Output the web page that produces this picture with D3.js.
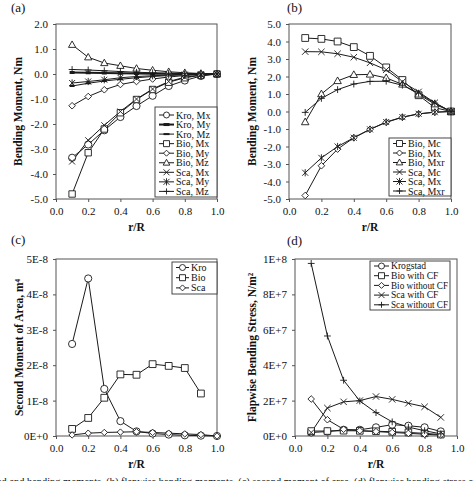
<!DOCTYPE html>
<html><head><meta charset="utf-8">
<script src="https://cdn.jsdelivr.net/npm/d3@7"></script>
<style>
body{margin:0;background:#fff}
svg{display:block}
svg text{font-family:"Liberation Serif","DejaVu Serif",serif !important;fill:#111}
</style>
</head><body>
<svg id="chart" width="474" height="481"></svg>
<script>
// ---------- data ----------
const rR  = [0.1,0.2,0.3,0.4,0.5,0.6,0.7,0.8,0.9,1.0];
const rR9 = [0.1,0.2,0.3,0.4,0.5,0.6,0.7,0.8,0.9];
const xTicks = [0,0.2,0.4,0.6,0.8,1.0];

// (a) bending moments
const aKroMx = [-3.35,-2.82,-2.25,-1.72,-1.28,-0.87,-0.48,-0.26,-0.08,0];
const aKroMy = [0.06,0.05,0.04,0.03,0.02,0.01,0.01,0,0,0];
const aKroMz = [-0.48,-0.37,-0.28,-0.21,-0.15,-0.1,-0.06,-0.03,-0.01,0];
const aBioMx = [-4.8,-3.15,-2.2,-1.55,-1.02,-0.62,-0.33,-0.15,-0.05,0];
const aBioMy = [-1.27,-0.9,-0.63,-0.42,-0.3,-0.2,-0.12,-0.06,-0.02,0];
const aBioMz = [1.17,0.67,0.44,0.33,0.22,0.15,0.09,0.05,0.02,0];
const aScaMx = [-3.5,-2.65,-2.05,-1.5,-1.0,-0.6,-0.3,-0.13,-0.04,0];
const aScaMy = [-0.36,-0.3,-0.23,-0.15,-0.1,-0.07,-0.04,-0.02,-0.01,0];
const aScaMz = [0.18,0.16,0.13,0.1,0.07,0.05,0.03,0.01,0,0];
const aTicks = [-5,-4,-3,-2,-1,0,1,2];

// (b) flapwise bending moments
const bBioMc  = [4.2,4.15,4.0,3.68,3.18,2.52,1.8,0.93,0.22,0];
const bBioMx  = [-4.8,-3.1,-2.15,-1.5,-1.02,-0.62,-0.33,-0.14,-0.04,0];
const bBioMxr = [-0.6,1.0,1.75,2.1,2.12,1.92,1.55,0.98,0.42,0];
const bScaMc  = [3.42,3.41,3.3,3.1,2.78,2.38,1.7,1.12,0.5,0];
const bScaMx  = [-3.5,-2.65,-2.0,-1.5,-1.02,-0.6,-0.32,-0.13,-0.04,0];
const bScaMxr = [-0.05,0.75,1.25,1.57,1.72,1.73,1.5,1.05,0.48,0];
const bTicks = [-5,-4,-3,-2,-1,0,1,2,3,4,5];

// (c) second moment of area
const cKro = [2.6e-8,4.45e-8,1.33e-8,0.42e-8,0.13e-8,0.07e-8,0.04e-8,0.02e-8,0.01e-8,0];
const cBio = [0.2e-8,0.51e-8,1.08e-8,1.74e-8,1.73e-8,2.03e-8,1.98e-8,1.92e-8,1.2e-8];
const cSca = [0.03e-8,0.08e-8,0.1e-8,0.11e-8,0.12e-8,0.1e-8,0.08e-8,0.06e-8,0.04e-8,0];
const cTicks = [0,1e-8,2e-8,3e-8,4e-8,5e-8];
const cTickLabels = ["0E+0","1E-8","2E-8","3E-8","4E-8","5E-8"];

// (d) flapwise bending stress
const dKro     = [2.0e6,2.5e6,3.5e6,3.5e6,4.9e6,6.4e6,5.8e6,4.9e6,2.6e6];
const dBioCF   = [2.8e6,2.8e6,3.0e6,2.9e6,2.7e6,2.4e6,2.0e6,1.5e6,0.8e6];
const dBioNoCF = [20.9e6,9.2e6,3.8e6,3.0e6,2.5e6,2.0e6,1.5e6,1.0e6,0.5e6];
const dScaCF   = [2.0e6,15.8e6,19.3e6,20.0e6,22.3e6,20.7e6,18.5e6,16.5e6,10.5e6];
const dScaNoCF = [97.5e6,56.5e6,31.5e6,19.8e6,13.2e6,8.0e6,5.0e6,3.0e6,1.2e6];
const dTicks = [0,2e7,4e7,6e7,8e7,1e8];
const dTickLabels = ["0E+0","2E+7","4E+7","6E+7","8E+7","1E+8"];

const captionText = "ed and bending moments, (b) flapwise bending moments, (c) second moment of area, (d) flapwise bending stress of";

// ---------- drawing helpers ----------
const FONT = "Liberation Serif, DejaVu Serif, serif";
const svg = d3.select("#chart").attr("font-family", FONT);
const INK = "#1a1a1a";

function markerPath(type, r){
  switch(type){
    case "circle": return d3.symbol(d3.symbolCircle, Math.PI*r*r)();
    case "square": return `M${-r},${-r}h${2*r}v${2*r}h${-2*r}Z`;
    case "triangle": return `M0,${-r*1.15}L${r*1.1},${r*0.8}L${-r*1.1},${r*0.8}Z`;
    case "diamond": return `M0,${-r}L${r},0L0,${r}L${-r},0Z`;
    case "x": return `M${-r},${-r}L${r},${r}M${-r},${r}L${r},${-r}`;
    case "plus": return `M${-r},0H${r}M0,${-r}V${r}`;
    case "asterisk": return `M${-r},${-r}L${r},${r}M${-r},${r}L${r},${-r}M0,${-r*1.2}V${r*1.2}`;
    case "dash": return `M${-r},0H${r}`;
  }
}
const closed = t => ["circle","square","triangle","diamond"].includes(t);

function drawMarker(g, type, cx, cy, r, bold){
  g.append("path")
    .attr("d", markerPath(type, r))
    .attr("transform", `translate(${cx},${cy})`)
    .attr("fill", closed(type) ? "#fff" : "none")
    .attr("stroke", INK)
    .attr("stroke-width", type==="dash" ? (bold?3:2) : 0.9);
}

function fitText(t, maxW){
  const w = t.node().getComputedTextLength();
  if (w > maxW) t.attr("textLength", maxW).attr("lengthAdjust","spacingAndGlyphs");
}

function panel(cfg){
  const g = svg.append("g");
  const x = d3.scaleLinear().domain([0,1]).range(cfg.xr);
  const y = d3.scaleLinear().domain(cfg.yd).range(cfg.yr);
  const y0 = y(cfg.yd[0]), y1 = y(cfg.yd[1]);

  // axes
  const xa = g.append("g").attr("transform",`translate(0,${y0})`)
    .call(d3.axisBottom(x).tickValues(xTicks).tickFormat(d=>d.toFixed(1)).tickSize(3).tickPadding(5));
  const ya = g.append("g").attr("transform",`translate(${x(0)},0)`)
    .call(d3.axisLeft(y).tickValues(cfg.yTicks).tickFormat(cfg.yFmt).tickSize(3).tickPadding(5));
  [xa,ya].forEach(a=>{
    a.attr("font-family", FONT).attr("font-size", 11);
    a.select(".domain").remove();
    a.selectAll("line").attr("stroke","#555");
    a.selectAll("text").attr("fill","#111");
  });

  // frame
  g.append("rect").attr("x",x(0)).attr("y",y1).attr("width",x(1)-x(0)).attr("height",y0-y1)
    .attr("fill","none").attr("stroke","#555").attr("stroke-width",1);

  // series
  const line = d3.line().x(d=>x(d[0])).y(d=>y(d[1]));
  cfg.series.forEach(s=>{
    const pts = s.xs.map((v,i)=>[v, s.vals[i]]);
    g.append("path").attr("d", line(pts)).attr("fill","none")
      .attr("stroke", INK).attr("stroke-width", s.bold?2:1);
  });
  cfg.series.forEach(s=>{
    s.xs.forEach((v,i)=>drawMarker(g, s.mk, x(v), y(s.vals[i]), s.r||3.4, s.bold));
  });

  // axis titles
  g.append("text").attr("x",(x(0)+x(1))/2).attr("y",y0+32).attr("text-anchor","middle")
    .attr("font-size",11.5).attr("font-weight","bold").text("r/R");
  g.append("text").attr("transform",`translate(${cfg.titleX},${(y0+y1)/2}) rotate(-90)`)
    .attr("text-anchor","middle").attr("font-size",11.5).attr("font-weight","bold").text(cfg.yTitle);

  // panel label
  g.append("text").attr("x",cfg.lab[0]).attr("y",cfg.lab[1]).attr("font-size",13).text(cfg.label);

  // legend
  const L = cfg.legend;
  const lg = g.append("g");
  lg.append("rect").attr("x",L.x).attr("y",L.y).attr("width",L.w).attr("height",L.h)
    .attr("fill","#fff").attr("stroke","#333").attr("stroke-width",0.9);
  cfg.series.forEach((s,i)=>{
    const yy = L.y + L.first + i*L.step;
    lg.append("line").attr("x1",L.x+4).attr("x2",L.x+4+L.len).attr("y1",yy).attr("y2",yy)
      .attr("stroke",INK).attr("stroke-width", s.bold?2:1);
    drawMarker(lg, s.mk, L.x+4+L.len/2, yy, 3, s.bold);
    const t = lg.append("text").attr("x",L.x+6+L.len).attr("y",yy).attr("dy","0.35em")
      .attr("font-size",L.fs||10).text(s.name);
    fitText(t, L.w - (8+L.len));
  });
}

const f1 = d=>d.toFixed(1);

panel({
  label:"(a)", lab:[11,12],
  xr:[56,217], yd:[-5,2], yr:[199,24], yTicks:aTicks, yFmt:f1,
  titleX:22, yTitle:"Bending Moment, Nm",
  series:[
    {name:"Kro, Mx", vals:aKroMx, xs:rR, mk:"circle", r:3.6},
    {name:"Kro, My", vals:aKroMy, xs:rR, mk:"dash", r:2.5, bold:true},
    {name:"Kro, Mz", vals:aKroMz, xs:rR, mk:"dash", r:2.5},
    {name:"Bio, Mx", vals:aBioMx, xs:rR, mk:"square", r:3.2},
    {name:"Bio, My", vals:aBioMy, xs:rR, mk:"diamond", r:3.3},
    {name:"Bio, Mz", vals:aBioMz, xs:rR, mk:"triangle", r:3.3},
    {name:"Sca, Mx", vals:aScaMx, xs:rR, mk:"x", r:3},
    {name:"Sca, My", vals:aScaMy, xs:rR, mk:"asterisk", r:3},
    {name:"Sca, Mz", vals:aScaMz, xs:rR, mk:"plus", r:3.4}
  ],
  legend:{x:155, y:107, w:62, h:90, first:8, step:9.55, len:15}
});

panel({
  label:"(b)", lab:[287,12],
  xr:[289,451], yd:[-5,5], yr:[199,24], yTicks:bTicks, yFmt:f1,
  titleX:256, yTitle:"Bending Moment, Nm",
  series:[
    {name:"Bio, Mc", vals:bBioMc, xs:rR, mk:"square", r:3.4},
    {name:"Bio, Mx", vals:bBioMx, xs:rR, mk:"diamond", r:3.3},
    {name:"Bio, Mxr", vals:bBioMxr, xs:rR, mk:"triangle", r:3.4},
    {name:"Sca, Mc", vals:bScaMc, xs:rR, mk:"x", r:3.2},
    {name:"Sca, Mx", vals:bScaMx, xs:rR, mk:"asterisk", r:3},
    {name:"Sca, Mxr", vals:bScaMxr, xs:rR, mk:"plus", r:3.4}
  ],
  legend:{x:389, y:138, w:62, h:58, first:5.5, step:9.5, len:13}
});

panel({
  label:"(c)", lab:[11,244],
  xr:[56,217], yd:[0,5e-8], yr:[436,259], yTicks:cTicks, yFmt:(d,i)=>cTickLabels[i],
  titleX:23, yTitle:"Second Moment of Area, m\u2074",
  series:[
    {name:"Kro", vals:cKro, xs:rR, mk:"circle", r:3.6},
    {name:"Bio", vals:cBio, xs:rR9, mk:"square", r:3.4},
    {name:"Sca", vals:cSca, xs:rR, mk:"diamond", r:3.2}
  ],
  legend:{x:172, y:262, w:45, h:32, first:5.5, step:10.2, len:13}
});

panel({
  label:"(d)", lab:[287,245],
  xr:[295,457], yd:[0,1e8], yr:[436,259], yTicks:dTicks, yFmt:(d,i)=>dTickLabels[i],
  titleX:256, yTitle:"Flapwise Bending Stress, N/m\u00b2",
  series:[
    {name:"Krogstad", vals:dKro, xs:rR9, mk:"circle", r:3.6},
    {name:"Bio with CF", vals:dBioCF, xs:rR9, mk:"square", r:3.3},
    {name:"Bio without CF", vals:dBioNoCF, xs:rR9, mk:"diamond", r:3.3},
    {name:"Sca with CF", vals:dScaCF, xs:rR9, mk:"x", r:3.2},
    {name:"Sca without CF", vals:dScaNoCF, xs:rR9, mk:"plus", r:3.4}
  ],
  legend:{x:370, y:261, w:80, h:49, first:5, step:9.7, len:15, fs:9.6}
});

// caption (cut off at the bottom edge as in the source figure)
svg.append("text").attr("x",-3).attr("y",485).attr("font-size",11)
  .attr("textLength",480).attr("lengthAdjust","spacingAndGlyphs").text(captionText);
</script>
</body></html>
